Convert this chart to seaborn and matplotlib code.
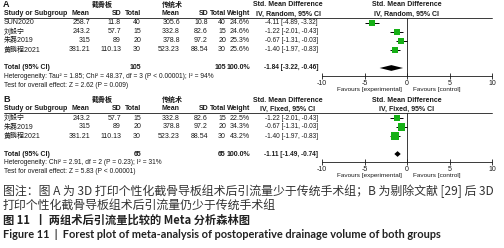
import matplotlib
matplotlib.use("Agg")
import matplotlib.pyplot as plt
import seaborn as sns
import pandas as pd
from matplotlib import transforms

# ---------------- data ----------------
group_exp = "截骨板"
group_ctl = "传统术"
ticks = [-10, -5, 0, 5, 10]

study_a = ["SUN2020", "刘毅宁", "朱磊2019", "黄鹏程2021"]
exp_mean_a = [258.7, 243.2, 315, 381.21]
exp_sd_a = [11.8, 57.7, 89, 110.13]
exp_n_a = [40, 15, 20, 30]
ctl_mean_a = [305.6, 332.8, 378.8, 523.23]
ctl_sd_a = [10.8, 82.6, 97.2, 88.54]
ctl_n_a = [40, 15, 20, 30]
weight_a = [24.6, 24.6, 25.3, 25.6]
smd_a = [-4.11, -1.22, -0.67, -1.40]
lo_a = [-4.89, -2.01, -1.31, -1.97]
hi_a = [-3.32, -0.43, -0.03, -0.83]
total_a = [-1.84, -3.22, -0.46]
het_a = "Heterogeneity: Tau² = 1.85; Chi² = 48.37, df = 3 (P < 0.00001); I² = 94%"
test_a = "Test for overall effect: Z = 2.62 (P = 0.009)"

study_b = ["刘毅宁", "朱磊2019", "黄鹏程2021"]
exp_mean_b = [243.2, 315, 381.21]
exp_sd_b = [57.7, 89, 110.13]
exp_n_b = [15, 20, 30]
ctl_mean_b = [332.8, 378.8, 523.23]
ctl_sd_b = [82.6, 97.2, 88.54]
ctl_n_b = [15, 20, 30]
weight_b = [22.5, 34.3, 43.2]
smd_b = [-1.22, -0.67, -1.40]
lo_b = [-2.01, -1.31, -1.97]
hi_b = [-0.43, -0.03, -0.83]
total_b = [-1.11, -1.49, -0.74]
het_b = "Heterogeneity: Chi² = 2.91, df = 2 (P = 0.23); I² = 31%"
test_b = "Test for overall effect: Z = 5.83 (P < 0.00001)"

caption1 = "图注：图 A 为 3D 打印个性化截骨导板组术后引流量少于传统手术组；B 为剔除文献 [29] 后 3D"
caption2 = "打印个性化截骨导板组术后引流量仍少于传统手术组"
title_cn = "图 11  丨 两组术后引流量比较的 Meta 分析森林图"
title_en = "Figure 11  |  Forest plot of meta-analysis of postoperative drainage volume of both groups"

# ---------------- style ----------------
sns.set_theme(style="white")
plt.rcParams["font.family"] = ["Liberation Sans", "Noto Sans CJK SC"]
plt.rcParams["axes.unicode_minus"] = False

W, H = 504, 248
fig = plt.figure(figsize=(W / 100, H / 100), dpi=100)
FS = 5.0
TXT = "#1a1a1a"
GREEN = "#16b016"


def X(px):
    return px / W


# column right edges (px)
C_EM, C_ESD, C_EN, C_CM, C_CSD, C_CN, C_W, C_CI = 90, 121, 141, 180, 208, 226, 250, 318
AX_L, AX_R = 322, 492


def fmt(v):
    return f"{v:g}"


def draw_panel(label, y0, studies, em, esd, en, cm, csd, cn, w, smd, lo, hi, tot,
               method, het, test):
    n = len(studies)
    d = 9.0
    r_top = -0.55
    r_bot = n + 1.9
    top_px = y0 + d * r_top
    bot_px = y0 + d * r_bot
    ax = fig.add_axes([X(AX_L), 1 - bot_px / H, (AX_R - AX_L) / W, (bot_px - top_px) / H])
    ax.patch.set_alpha(0)
    ax.set_xlim(-10, 10)
    ax.set_ylim(r_bot, r_top)
    tr = transforms.blended_transform_factory(fig.transFigure, ax.transData)

    def T(x, r, s, ha="right", **kw):
        kw.setdefault("fontsize", FS)
        kw.setdefault("color", TXT)
        ax.text(X(x), r, s, transform=tr, ha=ha, va="center", **kw)

    # headers
    T(3, -2.05, label, ha="left", fontweight="bold", fontsize=6.5)
    T(102, -2, group_exp, ha="center", fontweight="bold")
    T(172, -2, group_ctl, ha="center", fontweight="bold")
    T(288, -2, "Std. Mean Difference", ha="center", fontweight="bold")
    T(407, -2, "Std. Mean Difference", ha="center", fontweight="bold")
    T(4, -1, "Study or Subgroup", ha="left", fontweight="bold")
    for x, s in [(C_EM, "Mean"), (C_ESD, "SD"), (C_EN, "Total"), (C_CM, "Mean"),
                 (C_CSD, "SD"), (C_CN, "Total"), (C_W, "Weight")]:
        T(x, -1, s, fontweight="bold")
    T(288, -1, f"IV, {method}, 95% CI", ha="center", fontweight="bold")
    T(407, -1, f"IV, {method}, 95% CI", ha="center", fontweight="bold")
    ax.plot([X(4), X(AX_R)], [r_top, r_top], transform=tr, color=TXT, lw=0.6,
            clip_on=False)

    # study rows
    for i in range(n):
        T(4, i, studies[i], ha="left")
        T(C_EM, i, fmt(em[i]))
        T(C_ESD, i, fmt(esd[i]))
        T(C_EN, i, fmt(en[i]))
        T(C_CM, i, fmt(cm[i]))
        T(C_CSD, i, fmt(csd[i]))
        T(C_CN, i, fmt(cn[i]))
        T(C_W, i, f"{w[i]:.1f}%")
        T(C_CI, i, f"{smd[i]:.2f} [{lo[i]:.2f}, {hi[i]:.2f}]", fontsize=FS - 0.3)

    rt = n + 1
    T(4, rt, "Total (95% CI)", ha="left", fontweight="bold")
    T(C_EN, rt, fmt(sum(en)), fontweight="bold")
    T(C_CN, rt, fmt(sum(cn)), fontweight="bold")
    T(C_W, rt, "100.0%", fontweight="bold")
    T(C_CI, rt, f"{tot[0]:.2f} [{tot[1]:.2f}, {tot[2]:.2f}]", fontweight="bold",
      fontsize=FS - 0.3)
    T(4, rt + 1, het, ha="left", fontsize=FS - 0.2)
    T(4, rt + 1.9, test, ha="left", fontsize=FS - 0.2)

    # forest marks
    df = pd.DataFrame({"smd": smd, "row": list(range(n)), "weight": w})
    ax.hlines(df["row"], lo, hi, color="black", lw=0.7, zorder=2)
    k = 0.8
    sns.scatterplot(data=df, x="smd", y="row", size="weight",
                    sizes=(min(w) * k, max(w) * k), size_norm=(min(w), max(w)),
                    marker="s", color=GREEN, edgecolor="none", legend=False,
                    ax=ax, zorder=3)
    h = 0.32
    ax.fill([tot[1], tot[0], tot[2], tot[0]], [rt, rt - h, rt, rt + h],
            color="black", lw=0, zorder=3)
    ax.axvline(0, color=TXT, lw=0.6, zorder=1)

    for s in ["top", "left", "right"]:
        ax.spines[s].set_visible(False)
    ax.spines["bottom"].set_color(TXT)
    ax.spines["bottom"].set_linewidth(0.6)
    ax.set_xticks(ticks)
    ax.set_xticklabels([str(t) for t in ticks])
    ax.set_yticks([])
    ax.set_xlabel("")
    ax.set_ylabel("")
    ax.tick_params(axis="x", direction="inout", length=4, width=0.6, labelsize=FS,
                   pad=0.5, colors=TXT, bottom=True)
    rf = r_bot + 13.5 / d
    T(402, rf, "Favours [experimental]", ha="right", fontsize=FS - 0.4)
    T(413, rf, "Favours [control]", ha="left", fontsize=FS - 0.4)
    return ax


draw_panel("A", 23, study_a, exp_mean_a, exp_sd_a, exp_n_a, ctl_mean_a, ctl_sd_a,
           ctl_n_a, weight_a, smd_a, lo_a, hi_a, total_a, "Random", het_a, test_a)
draw_panel("B", 118, study_b, exp_mean_b, exp_sd_b, exp_n_b, ctl_mean_b, ctl_sd_b,
           ctl_n_b, weight_b, smd_b, lo_b, hi_b, total_b, "Fixed", het_b, test_b)

CJK = ["Noto Sans CJK SC", "DejaVu Sans"]
fig.text(X(3), 1 - 191 / H, caption1, fontsize=8.6, family=CJK, color="#333333",
         va="center", ha="left")
fig.text(X(3), 1 - 205 / H, caption2, fontsize=8.6, family=CJK, color="#333333",
         va="center", ha="left")
fig.text(X(3), 1 - 220 / H, title_cn, fontsize=8.1, family=CJK, color="#222222",
         va="center", ha="left", fontweight="bold")
fig.text(X(3), 1 - 235 / H, title_en, fontsize=7.95, family=["Lato", "DejaVu Sans"],
         color="#222222", va="center", ha="left", fontweight="bold")

fig.savefig("out.png", dpi=100)
